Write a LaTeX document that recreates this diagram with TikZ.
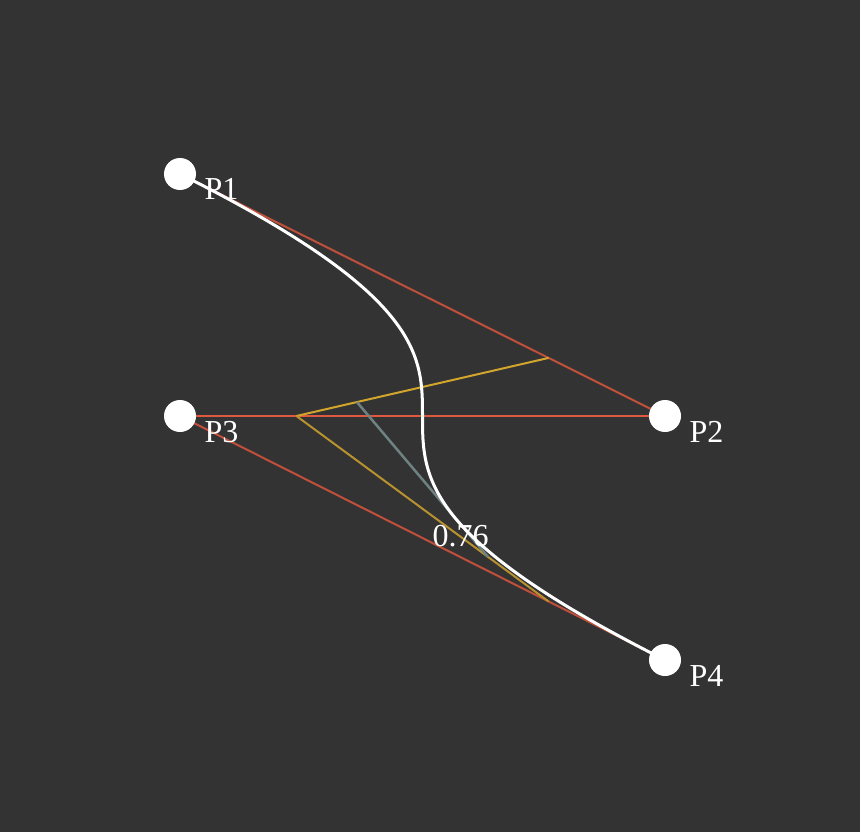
\documentclass[tikz,border=0pt]{standalone}
\usepackage{fontspec}
\setmainfont{Liberation Serif}
\usetikzlibrary{calc}
\definecolor{bgcol}{HTML}{333333}
\definecolor{hullred}{HTML}{C0503C}
\definecolor{hullorange}{HTML}{E0583F}
\definecolor{lvlone}{HTML}{D2A62C}
\definecolor{lvltwo}{HTML}{B8922E}
\definecolor{lvlgray}{HTML}{6F8282}
\tikzset{zhull/.style={
  hullred,
  line width=2}}
\tikzset{zpoint/.style={
  circle,
  fill=white,
  minimum size=32,
  inner sep=0pt}}
\tikzset{zlabel/.style={
  white,
  anchor=base west,
  inner sep=0pt,
  font=\fontsize{32}{34}\selectfont}}

\begin{document}
\begin{tikzpicture}[x=1pt,y=-1pt]

  %%%% Background and page size %%%%
  \fill[bgcol] (0,0) rectangle (860,832);
  \useasboundingbox (0,0) rectangle (860,832);

  %% Control points
  \coordinate (p1) at (180,174);
  \coordinate (p2) at (665,416);
  \coordinate (p3) at (180,416);
  \coordinate (p4) at (665,660);

  %% De Casteljau steps
  \xdef\tpar{0.76}
  \coordinate (q1) at ($(p1)!\tpar!(p2)$);
  \coordinate (q2) at ($(p2)!\tpar!(p3)$);
  \coordinate (q3) at ($(p3)!\tpar!(p4)$);
  \coordinate (r1) at ($(q1)!\tpar!(q2)$);
  \coordinate (r2) at ($(q2)!\tpar!(q3)$);
  \coordinate (b) at ($(r1)!\tpar!(r2)$);

  %% Hull
  \draw[zhull] (p1) -- (p2);
  \draw[zhull,hullorange] (p2) -- (p3);
  \draw[zhull] (p3) -- (p4);

  %% Inner lines
  \draw[lvlone,line width=2] (q1) -- (q2);
  \draw[lvltwo,line width=2] (q2) -- (q3);
  \draw[lvlgray,line width=2.5] (r1) -- (r2);

  %% The curve
  \draw[white,line width=3] (p1) .. controls (p2) and (p3) .. (p4);

  %% Points and their names
  \foreach \i in {1,...,4}{
    \node[zpoint] (P\i) at (p\i) {};
    \node[zlabel] (L\i) at ($(p\i)+(24.5,26)$) {P\i};
  }
  \node[zlabel,anchor=base] (tval) at ($(b)+(4,27)$) {0.76};

\end{tikzpicture}
\end{document}
